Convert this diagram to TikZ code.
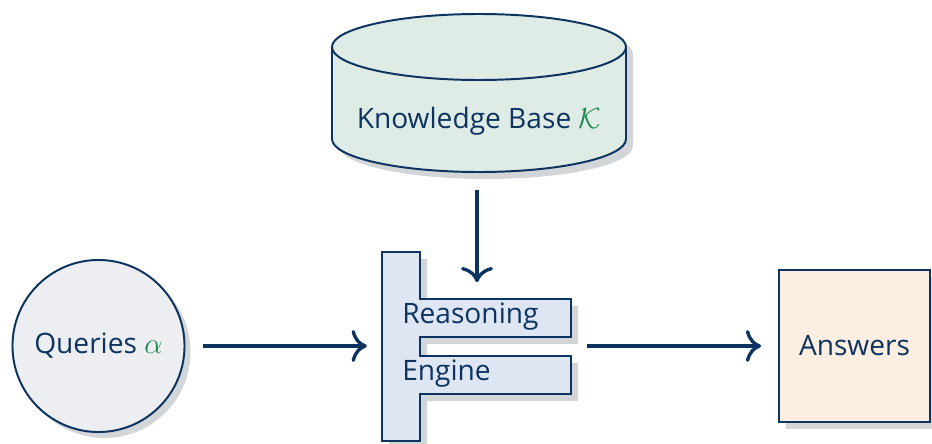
\documentclass[tikz,border=0pt]{standalone}
\usepackage{fontspec}
\setmainfont{Open Sans}
\usetikzlibrary{arrows.meta}
\usetikzlibrary{positioning}
\definecolor{ink}{HTML}{0D3360}
\definecolor{kbfill}{HTML}{DFECE6}
\definecolor{qfill}{HTML}{ECEEF1}
\definecolor{engfill}{HTML}{DFE6F3}
\definecolor{ansfill}{HTML}{FDEEE2}
\definecolor{shadowgrey}{HTML}{D3D6D9}
\definecolor{mathgreen}{HTML}{1E8A50}
\newcommand*{\greenmath}[1]{\textcolor{mathgreen}{$#1$}}
\tikzstyle{base}=[x=0.025cm, y=0.025cm, line join=miter]
\tikzstyle{outline}=[draw=ink, line width=1.4pt]
\tikzstyle{flow}=[draw=ink, line width=2.4pt, -{Computer Modern Rightarrow[length=3.8mm,width=8mm]}]
\tikzstyle{txt}=[text=ink, inner sep=0pt]

\begin{document}
\begin{tikzpicture}[base]
    \fontsize{20}{24}\selectfont
    \path [use as bounding box] (0,0) rectangle (932,443);
    % knowledge base
    \fill [shadowgrey, shift={(7,-7)}] (332,396) -- (332,304) arc [start angle=180, end angle=360, x radius=147, y radius=33] -- (626,396) arc [start angle=0, end angle=180, x radius=147, y radius=33] -- cycle;
    \path [outline, fill=kbfill] (332,396) -- (332,304) arc [start angle=180, end angle=360, x radius=147, y radius=33] -- (626,396) arc [start angle=0, end angle=180, x radius=147, y radius=33] -- cycle;
    \draw [outline] (332,396) arc [start angle=180, end angle=360, x radius=147, y radius=33];
    \node [txt] (kb) at (479,322) {Knowledge Base \greenmath{\mathcal{K}}};
    \coordinate (kbS) at (477,271);
    % reasoning engine
    \fill [shadowgrey, shift={(7,-7)}] (382,2) -- (382,191) -- (420,191) -- (420,144) -- (571,144) -- (571,106) -- (420,106) -- (420,87) -- (571,87) -- (571,49) -- (420,49) -- (420,2) -- cycle;
    \path [outline, fill=engfill] (382,2) -- (382,191) -- (420,191) -- (420,144) -- (571,144) -- (571,106) -- (420,106) -- (420,87) -- (571,87) -- (571,49) -- (420,49) -- (420,2) -- cycle;
    \node [txt, anchor=base west] (reason) at (402,120) {Reasoning};
    \node [txt, anchor=base west] (engine) at (402,63) {Engine};
    \coordinate (engN) at (477,144);
    \coordinate (engW) at (382,97);
    \coordinate (engE) at (571,97);
    % queries and answers
    \fill [shadowgrey] (104.5,91) circle [radius=86];
    \node [txt, outline, fill=qfill, circle, minimum size=4.3cm] (qry) at (98.5,97) {Queries \greenmath{\alpha}};
    \fill [shadowgrey] (786,14) rectangle (937,166);
    \node [txt, outline, fill=ansfill, rectangle, minimum size=3.78cm] (ans) at (854.5,97) {Answers};
    % connectors
    \draw [flow, shorten <=0.45cm, shorten >=0.42cm] (kbS) -- (engN);
    \draw [flow, shorten <=0.44cm, shorten >=0.38cm] (qry) -- (engW);
    \draw [flow, shorten <=0.4cm, shorten >=0.42cm] (engE) -- (ans);
\end{tikzpicture}
\end{document}
